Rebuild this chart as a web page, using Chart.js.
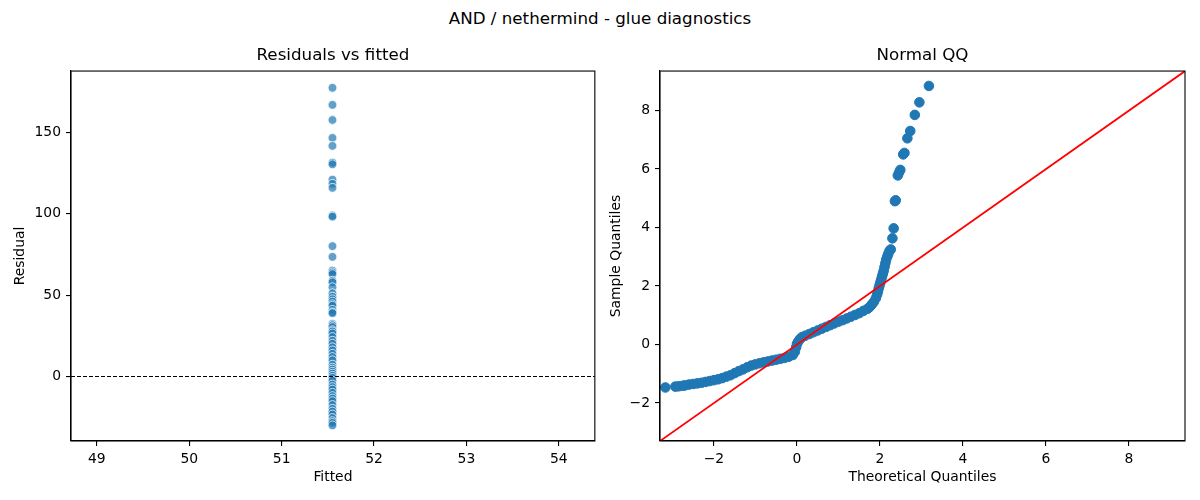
<!DOCTYPE html>
<html>
<head>
<meta charset="utf-8">
<title>AND / nethermind - glue diagnostics</title>
<script src="https://cdn.jsdelivr.net/npm/chart.js@4.4.1/dist/chart.umd.min.js"></script>
<style>
    body { margin: 0; background: #fff; font-family: "DejaVu Sans", sans-serif; }
    #wrap { position: relative; width: 1200px; height: 500px; }
    #suptitle { position: absolute; left: 0; top: 8px; width: 1200px; text-align: center;
                font-size: 16.7px; line-height: 20px; color: #000; }
    .panel { position: absolute; top: 0; width: 600px; height: 500px; }
</style>
</head>
<body>
<div id="wrap">
    <div id="suptitle">AND / nethermind - glue diagnostics</div>
    <div class="panel" style="left:0"><canvas id="resid-canvas" width="600" height="500"></canvas></div>
    <div class="panel" style="left:600px"><canvas id="qq-canvas" width="600" height="500"></canvas></div>
</div>
<script>
//////////////////////////////////////////////////
/////       Data   //////////
//////////////////////////////////////////////////

var fittedValue = 51.55;
var residuals = [177.5, 167, 157.7, 146.7, 141.8, 131.5, 130.5, 121, 118.5, 116, 99, 98.3, 80.2, 73.6,
    65.1, 64, 63, 58.9, 58, 54.9, 51.2, 49.1, 47.5, 46.1, 44.5, 43.5, 41, 39.5, 39,
    32.4, 31.5, 30.4, 28.5, 27.7, 26.5, 24.3, 22, 20.2, 18, 16.1, 14, 12, 10, 7.3, 5.5, 4.3, 3, 1.8, 0.5,
    -0.8, -2.5, -4.9, -6.5, -8, -10, -12, -13.5, -15.1, -17.5, -19.8, -21.5, -23.3, -25.5, -27.4, -28.5, -30];

var residXTicks = [49, 50, 51, 52, 53, 54];
var residYTicks = [0, 50, 100, 150];
var residXRange = [48.72, 54.39];
var residYRange = [-39.6, 187.8];

var theoretical = [-3.17, -2.93, -2.85, -2.75, -2.7, -2.6, -2.5, -2.4, -2.3, -2.2, -2.1, -2.0, -1.9, -1.8,
    -1.7, -1.6, -1.5, -1.4, -1.3, -1.2, -1.1, -1.0, -0.9, -0.8, -0.7, -0.6, -0.5, -0.4, -0.3, -0.2, -0.1,
    -0.05, -0.02, 0.0, 0.03, 0.07, 0.12, 0.2, 0.3, 0.4, 0.5, 0.6, 0.7, 0.8, 0.9, 1.0, 1.1, 1.2, 1.3, 1.4,
    1.5, 1.6, 1.7, 1.75, 1.8, 1.85, 1.9, 1.93, 1.95, 1.97, 1.99, 2.01, 2.03, 2.05, 2.07, 2.09, 2.11, 2.13,
    2.15, 2.18, 2.2, 2.23, 2.26, 2.30, 2.33, 2.36, 2.38, 2.43, 2.46, 2.49, 2.56, 2.59, 2.66, 2.73, 2.84,
    2.95, 3.18];
var sample = [-1.47, -1.44, -1.43, -1.41, -1.40, -1.37, -1.35, -1.33, -1.31, -1.28, -1.25, -1.22, -1.19, -1.15,
    -1.10, -1.05, -0.98, -0.91, -0.85, -0.78, -0.72, -0.68, -0.64, -0.61, -0.58, -0.55, -0.52, -0.49, -0.46, -0.42, -0.36,
    -0.25, -0.1, 0.02, 0.1, 0.18, 0.25, 0.3, 0.36, 0.42, 0.48, 0.54, 0.6, 0.66, 0.72, 0.78, 0.83, 0.89, 0.95, 1.01,
    1.07, 1.15, 1.22, 1.28, 1.36, 1.45, 1.58, 1.7, 1.8, 1.92, 2.02, 2.12, 2.22, 2.32, 2.42, 2.52, 2.65, 2.78,
    2.9, 3.02, 3.1, 3.2, 3.25, 3.63, 3.97, 4.90, 4.93, 5.78, 5.88, 5.97, 6.50, 6.55, 7.05, 7.30, 7.85,
    8.28, 8.84];

var qqTicks = [-2, 0, 2, 4, 6, 8];
var qqRange = [-3.3, 9.35];

//////////////////////////////////////////////////
/////       Shared bits                 //////////
//////////////////////////////////////////////////

Chart.defaults.font.family = '"DejaVu Sans", sans-serif';
Chart.defaults.font.size = 13.9;
Chart.defaults.color = '#000';

// full box round the plot area, like matplotlib spines
var framePlugin = {
    id: 'frame',
    afterDraw: function (chart) {
        var a = chart.chartArea, c = chart.ctx;
        c.save();
        c.strokeStyle = '#000';
        c.lineWidth = 1.1;
        c.strokeRect(a.left, a.top, a.right - a.left, a.bottom - a.top);
        c.restore();
    }
};

function minus(v) {
    return String(v).replace('-', '\u2212');
}

function axis(range, ticks, title, fitSize, horizontal) {
    return {
        type: 'linear',
        min: range[0],
        max: range[1],
        afterBuildTicks: function (scale) {
            scale.ticks = ticks.map(function (v) { return {value: v}; });
        },
        afterFit: function (scale) {
            if (horizontal) scale.height = fitSize.size; else scale.width = fitSize.size;
        },
        grid: {display: true, drawOnChartArea: false, drawTicks: true, tickLength: 5, color: '#000', lineWidth: 1.1},
        border: {display: true, color: '#000', width: 1.1},
        ticks: {padding: 5, color: '#000', callback: minus, maxRotation: 0},
        title: {display: true, text: title, color: '#000', font: {size: 13.9},
            padding: horizontal ? {top: 0, bottom: 14} : {top: fitSize.pad, bottom: 0}}
    };
}

function baseOptions(title, rightPad, xs, ys) {
    return {
        responsive: false,
        animation: false,
        events: [],
        layout: {padding: {top: 0, right: rightPad, bottom: 0, left: 0}},
        plugins: {
            legend: {display: false},
            tooltip: {enabled: false},
            title: {display: true, text: title, fullSize: false, color: '#000',
                font: {size: 16.7, weight: 'normal'}, padding: {top: 46, bottom: 5}}
        },
        scales: {x: xs, y: ys}
    };
}

//////////////////////////////////////////////////
/////       Residuals vs fitted         //////////
//////////////////////////////////////////////////

new Chart(document.getElementById('resid-canvas').getContext('2d'), {
    type: 'scatter',
    data: {
        datasets: [
            {
                type: 'line',
                data: [{x: residXRange[0], y: 0}, {x: residXRange[1], y: 0}],
                borderColor: '#000',
                borderWidth: 1.1,
                borderDash: [4, 2],
                pointRadius: 0,
                fill: false
            },
            {
                data: residuals.map(function (r) { return {x: fittedValue, y: r}; }),
                backgroundColor: 'rgba(31,119,180,0.7)',
                borderColor: '#fff',
                borderWidth: 0.75,
                pointRadius: 4.4
            }
        ]
    },
    options: baseOptions('Residuals vs fitted', 4,
        axis(residXRange, residXTicks, 'Fitted', {size: 59}, true),
        axis(residYRange, residYTicks, 'Residual', {size: 71, pad: 12.4}, false)),
    plugins: [framePlugin]
});

//////////////////////////////////////////////////
/////       Normal QQ                   //////////
//////////////////////////////////////////////////

new Chart(document.getElementById('qq-canvas').getContext('2d'), {
    type: 'scatter',
    data: {
        datasets: [
            {
                type: 'line',
                data: [{x: qqRange[0], y: qqRange[0]}, {x: qqRange[1], y: qqRange[1]}],
                borderColor: '#ff0000',
                borderWidth: 1.8,
                pointRadius: 0,
                fill: false
            },
            {
                data: theoretical.map(function (t, i) { return {x: t, y: sample[i]}; }),
                backgroundColor: '#1f77b4',
                borderColor: '#1f77b4',
                borderWidth: 1,
                pointRadius: 4.8
            }
        ]
    },
    options: baseOptions('Normal QQ', 15,
        axis(qqRange, qqTicks, 'Theoretical Quantiles', {size: 59}, true),
        axis(qqRange, qqTicks, 'Sample Quantiles', {size: 60, pad: 7.7}, false)),
    plugins: [framePlugin]
});
</script>
</body>
</html>
